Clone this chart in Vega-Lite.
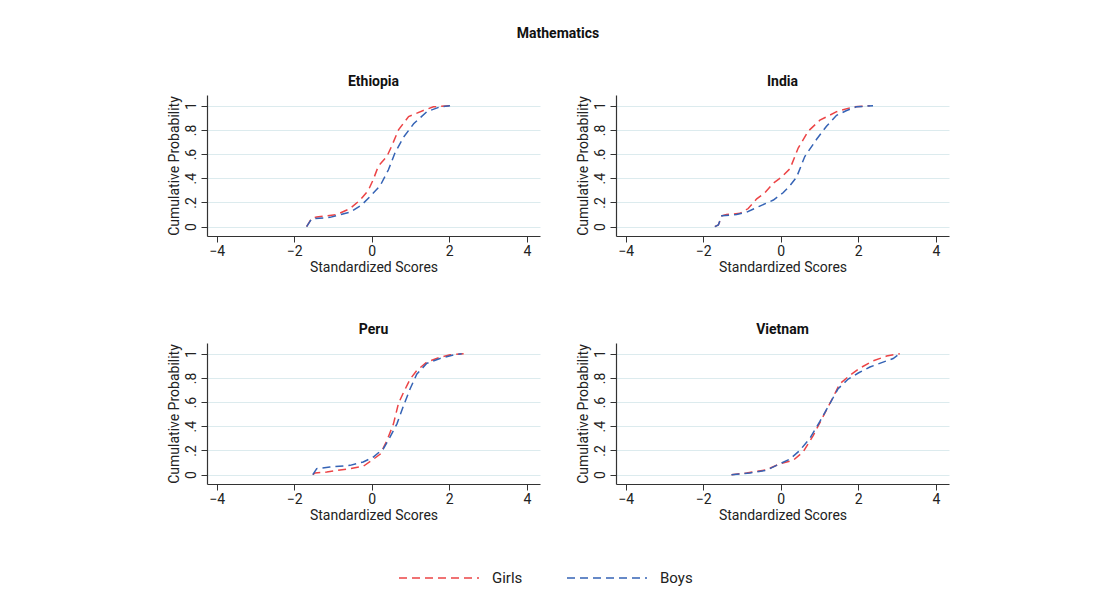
{
  "$schema": "https://vega.github.io/schema/vega-lite/v6.json",
  "background": "white",
  "padding": {"left": 166, "top": 27, "right": 10, "bottom": 10},
  "title": {"text": "Mathematics", "font": "Roboto", "fontSize": 14, "fontWeight": "bold", "color": "#111", "anchor": "middle", "offset": 34},
  "data": {"values": [
    {"country":"Ethiopia","sex":"Girls","x":-1.68,"y":0},
    {"country":"Ethiopia","sex":"Girls","x":-1.55,"y":0.07},
    {"country":"Ethiopia","sex":"Girls","x":-1.42,"y":0.08},
    {"country":"Ethiopia","sex":"Girls","x":-0.9,"y":0.1},
    {"country":"Ethiopia","sex":"Girls","x":-0.56,"y":0.15},
    {"country":"Ethiopia","sex":"Girls","x":-0.3,"y":0.22},
    {"country":"Ethiopia","sex":"Girls","x":-0.09,"y":0.3},
    {"country":"Ethiopia","sex":"Girls","x":0.04,"y":0.39},
    {"country":"Ethiopia","sex":"Girls","x":0.17,"y":0.5},
    {"country":"Ethiopia","sex":"Girls","x":0.39,"y":0.58},
    {"country":"Ethiopia","sex":"Girls","x":0.52,"y":0.67},
    {"country":"Ethiopia","sex":"Girls","x":0.69,"y":0.8},
    {"country":"Ethiopia","sex":"Girls","x":0.95,"y":0.91},
    {"country":"Ethiopia","sex":"Girls","x":1.33,"y":0.96},
    {"country":"Ethiopia","sex":"Girls","x":1.59,"y":0.99},
    {"country":"Ethiopia","sex":"Girls","x":2.02,"y":1.0},
    {"country":"Ethiopia","sex":"Boys","x":-1.68,"y":0},
    {"country":"Ethiopia","sex":"Boys","x":-1.55,"y":0.065},
    {"country":"Ethiopia","sex":"Boys","x":-1.08,"y":0.077},
    {"country":"Ethiopia","sex":"Boys","x":-0.56,"y":0.12},
    {"country":"Ethiopia","sex":"Boys","x":-0.26,"y":0.18},
    {"country":"Ethiopia","sex":"Boys","x":-0.04,"y":0.25},
    {"country":"Ethiopia","sex":"Boys","x":0.22,"y":0.34},
    {"country":"Ethiopia","sex":"Boys","x":0.43,"y":0.47},
    {"country":"Ethiopia","sex":"Boys","x":0.6,"y":0.61},
    {"country":"Ethiopia","sex":"Boys","x":0.82,"y":0.74},
    {"country":"Ethiopia","sex":"Boys","x":1.08,"y":0.85},
    {"country":"Ethiopia","sex":"Boys","x":1.42,"y":0.95},
    {"country":"Ethiopia","sex":"Boys","x":1.76,"y":0.99},
    {"country":"Ethiopia","sex":"Boys","x":2.02,"y":1.0},
    {"country":"India","sex":"Girls","x":-1.7,"y":0},
    {"country":"India","sex":"Girls","x":-1.61,"y":0.014},
    {"country":"India","sex":"Girls","x":-1.52,"y":0.09},
    {"country":"India","sex":"Girls","x":-1.4,"y":0.1},
    {"country":"India","sex":"Girls","x":-1.05,"y":0.11},
    {"country":"India","sex":"Girls","x":-0.84,"y":0.15},
    {"country":"India","sex":"Girls","x":-0.62,"y":0.23},
    {"country":"India","sex":"Girls","x":-0.41,"y":0.28},
    {"country":"India","sex":"Girls","x":-0.19,"y":0.36},
    {"country":"India","sex":"Girls","x":0.02,"y":0.41},
    {"country":"India","sex":"Girls","x":0.24,"y":0.48},
    {"country":"India","sex":"Girls","x":0.45,"y":0.65},
    {"country":"India","sex":"Girls","x":0.71,"y":0.79},
    {"country":"India","sex":"Girls","x":1.01,"y":0.88},
    {"country":"India","sex":"Girls","x":1.44,"y":0.95},
    {"country":"India","sex":"Girls","x":1.87,"y":0.99},
    {"country":"India","sex":"Girls","x":2.3,"y":1.0},
    {"country":"India","sex":"Boys","x":-1.7,"y":0},
    {"country":"India","sex":"Boys","x":-1.61,"y":0.014},
    {"country":"India","sex":"Boys","x":-1.52,"y":0.09},
    {"country":"India","sex":"Boys","x":-1.14,"y":0.1},
    {"country":"India","sex":"Boys","x":-0.88,"y":0.12},
    {"country":"India","sex":"Boys","x":-0.54,"y":0.17},
    {"country":"India","sex":"Boys","x":-0.19,"y":0.22},
    {"country":"India","sex":"Boys","x":0.06,"y":0.28},
    {"country":"India","sex":"Boys","x":0.24,"y":0.34},
    {"country":"India","sex":"Boys","x":0.41,"y":0.41},
    {"country":"India","sex":"Boys","x":0.62,"y":0.58},
    {"country":"India","sex":"Boys","x":0.92,"y":0.72},
    {"country":"India","sex":"Boys","x":1.18,"y":0.83},
    {"country":"India","sex":"Boys","x":1.44,"y":0.92},
    {"country":"India","sex":"Boys","x":1.7,"y":0.96},
    {"country":"India","sex":"Boys","x":1.95,"y":0.99},
    {"country":"India","sex":"Boys","x":2.38,"y":1.0},
    {"country":"Peru","sex":"Girls","x":-1.52,"y":0},
    {"country":"Peru","sex":"Girls","x":-1.46,"y":0.014},
    {"country":"Peru","sex":"Girls","x":-1.16,"y":0.022},
    {"country":"Peru","sex":"Girls","x":-0.56,"y":0.05},
    {"country":"Peru","sex":"Girls","x":-0.22,"y":0.069},
    {"country":"Peru","sex":"Girls","x":0.0,"y":0.118},
    {"country":"Peru","sex":"Girls","x":0.22,"y":0.17},
    {"country":"Peru","sex":"Girls","x":0.39,"y":0.28},
    {"country":"Peru","sex":"Girls","x":0.56,"y":0.42},
    {"country":"Peru","sex":"Girls","x":0.69,"y":0.59},
    {"country":"Peru","sex":"Girls","x":0.82,"y":0.68},
    {"country":"Peru","sex":"Girls","x":0.99,"y":0.79},
    {"country":"Peru","sex":"Girls","x":1.16,"y":0.86},
    {"country":"Peru","sex":"Girls","x":1.42,"y":0.93},
    {"country":"Peru","sex":"Girls","x":1.76,"y":0.97},
    {"country":"Peru","sex":"Girls","x":2.02,"y":0.99},
    {"country":"Peru","sex":"Girls","x":2.37,"y":1.0},
    {"country":"Peru","sex":"Boys","x":-1.52,"y":0},
    {"country":"Peru","sex":"Boys","x":-1.42,"y":0.05},
    {"country":"Peru","sex":"Boys","x":-1.08,"y":0.063},
    {"country":"Peru","sex":"Boys","x":-0.56,"y":0.077},
    {"country":"Peru","sex":"Boys","x":-0.22,"y":0.105},
    {"country":"Peru","sex":"Boys","x":0.04,"y":0.146},
    {"country":"Peru","sex":"Boys","x":0.3,"y":0.215},
    {"country":"Peru","sex":"Boys","x":0.47,"y":0.31},
    {"country":"Peru","sex":"Boys","x":0.65,"y":0.42},
    {"country":"Peru","sex":"Boys","x":0.82,"y":0.57},
    {"country":"Peru","sex":"Boys","x":0.99,"y":0.71},
    {"country":"Peru","sex":"Boys","x":1.16,"y":0.83},
    {"country":"Peru","sex":"Boys","x":1.42,"y":0.92},
    {"country":"Peru","sex":"Boys","x":1.76,"y":0.96},
    {"country":"Peru","sex":"Boys","x":2.11,"y":0.99},
    {"country":"Peru","sex":"Boys","x":2.32,"y":1.0},
    {"country":"Vietnam","sex":"Girls","x":-1.27,"y":0},
    {"country":"Vietnam","sex":"Girls","x":-0.88,"y":0.014},
    {"country":"Vietnam","sex":"Girls","x":-0.37,"y":0.04},
    {"country":"Vietnam","sex":"Girls","x":-0.02,"y":0.09},
    {"country":"Vietnam","sex":"Girls","x":0.32,"y":0.118},
    {"country":"Vietnam","sex":"Girls","x":0.58,"y":0.19},
    {"country":"Vietnam","sex":"Girls","x":0.84,"y":0.325},
    {"country":"Vietnam","sex":"Girls","x":1.09,"y":0.48},
    {"country":"Vietnam","sex":"Girls","x":1.35,"y":0.64},
    {"country":"Vietnam","sex":"Girls","x":1.52,"y":0.75},
    {"country":"Vietnam","sex":"Girls","x":1.78,"y":0.82},
    {"country":"Vietnam","sex":"Girls","x":2.04,"y":0.88},
    {"country":"Vietnam","sex":"Girls","x":2.38,"y":0.94},
    {"country":"Vietnam","sex":"Girls","x":2.73,"y":0.98},
    {"country":"Vietnam","sex":"Girls","x":3.07,"y":1.0},
    {"country":"Vietnam","sex":"Boys","x":-1.27,"y":0},
    {"country":"Vietnam","sex":"Boys","x":-0.79,"y":0.014},
    {"country":"Vietnam","sex":"Boys","x":-0.37,"y":0.036},
    {"country":"Vietnam","sex":"Boys","x":-0.02,"y":0.09},
    {"country":"Vietnam","sex":"Boys","x":0.24,"y":0.13},
    {"country":"Vietnam","sex":"Boys","x":0.49,"y":0.2},
    {"country":"Vietnam","sex":"Boys","x":0.75,"y":0.3},
    {"country":"Vietnam","sex":"Boys","x":1.01,"y":0.44},
    {"country":"Vietnam","sex":"Boys","x":1.27,"y":0.59},
    {"country":"Vietnam","sex":"Boys","x":1.48,"y":0.71},
    {"country":"Vietnam","sex":"Boys","x":1.74,"y":0.79},
    {"country":"Vietnam","sex":"Boys","x":2.0,"y":0.84},
    {"country":"Vietnam","sex":"Boys","x":2.3,"y":0.89},
    {"country":"Vietnam","sex":"Boys","x":2.64,"y":0.93},
    {"country":"Vietnam","sex":"Boys","x":2.9,"y":0.96},
    {"country":"Vietnam","sex":"Boys","x":3.07,"y":1.0}
  ]},
  "facet": {"field": "country", "type": "nominal", "sort": ["Ethiopia","India","Peru","Vietnam"],
    "header": {"title": null, "labelFont": "Roboto", "labelFontSize": 14, "labelFontWeight": "bold", "labelColor": "#111", "labelPadding": 6}},
  "columns": 2,
  "spacing": {"column": 35, "row": 49},
  "resolve": {"axis": {"x": "independent", "y": "independent"}},
  "spec": {
    "width": 333,
    "height": 141,
    "mark": {"type": "line", "strokeDash": [8, 5], "strokeWidth": 1.5, "clip": true},
    "encoding": {
      "x": {"field": "x", "type": "quantitative",
        "scale": {"domain": [-4.25, 4.34], "nice": false, "zero": false},
        "axis": {"title": "Standardized Scores", "values": [-4,-2,0,2,4], "grid": false, "labelExpr": "replace(format(datum.value,'d'),'-','−')"}},
      "y": {"field": "y", "type": "quantitative",
        "scale": {"domain": [-0.077, 1.088], "nice": false, "zero": false},
        "axis": {"title": "Cumulative Probability", "values": [0,0.2,0.4,0.6,0.8,1], "grid": true, "labelAngle": 270, "labelAlign": "center", "labelBaseline": "bottom",
          "labelExpr": "datum.value == 0 ? '0' : datum.value == 1 ? '1' : replace(format(datum.value,'.1f'),'0.','.')"}},
      "color": {"field": "sex", "type": "nominal", "sort": ["Girls","Boys"],
        "scale": {"domain": ["Girls","Boys"], "range": ["#ec4446","#3563b5"]},
        "legend": {"title": null, "orient": "none", "legendX": 191, "legendY": 442, "direction": "horizontal", "symbolType": "stroke", "symbolDash": [8,5], "symbolStrokeWidth": 1.5, "symbolSize": 6400, "labelFont": "Roboto", "labelFontSize": 15, "labelColor": "#222", "columnPadding": 41, "labelOffset": 12}},
      "detail": {"field": "sex"}
    }
  },
  "config": {
    "view": {"stroke": null},
    "axis": {"labelFont": "Roboto", "titleFont": "Roboto", "labelFontSize": 14, "titleFontSize": 14, "titleFontWeight": "normal", "labelColor": "#222", "titleColor": "#222", "domainColor": "#333", "tickColor": "#333", "domainWidth": 1.2, "tickSize": 6, "gridColor": "#dcebee", "gridWidth": 1},
    "axisX": {"titlePadding": 2, "labelPadding": 2},
    "axisY": {"titlePadding": 3, "labelPadding": 3}
  }
}
